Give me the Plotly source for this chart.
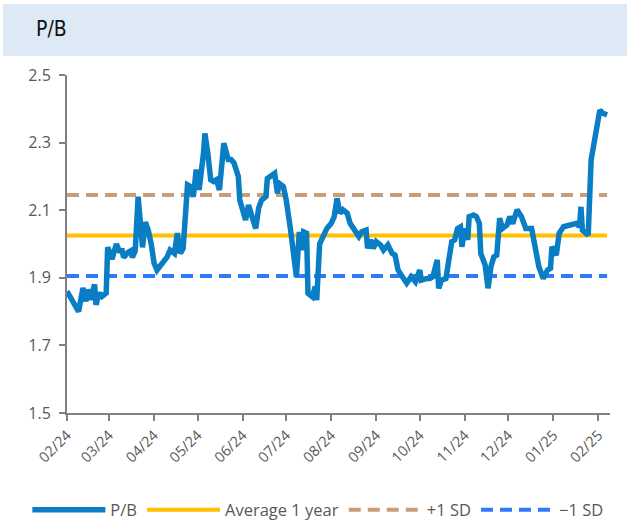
import plotly.graph_objects as go

dates = [
    "2024-02-01", "2024-02-09", "2024-02-12", "2024-02-14", "2024-02-15", "2024-02-17",
    "2024-02-20", "2024-02-21", "2024-02-23", "2024-02-25", "2024-02-28", "2024-02-29",
    "2024-03-02", "2024-03-03", "2024-03-06", "2024-03-08", "2024-03-10", "2024-03-11",
    "2024-03-14", "2024-03-16", "2024-03-17", "2024-03-19", "2024-03-21", "2024-03-23",
    "2024-03-24", "2024-03-26", "2024-03-28", "2024-03-30",
    "2024-04-01", "2024-04-03", "2024-04-07", "2024-04-10", "2024-04-12", "2024-04-15",
    "2024-04-17", "2024-04-19", "2024-04-21", "2024-04-24", "2024-04-26", "2024-04-28",
    "2024-04-30",
    "2024-05-02", "2024-05-05", "2024-05-06", "2024-05-08", "2024-05-10", "2024-05-12",
    "2024-05-14", "2024-05-16", "2024-05-19", "2024-05-22", "2024-05-24", "2024-05-26",
    "2024-05-29", "2024-05-30",
    "2024-06-03", "2024-06-05", "2024-06-07", "2024-06-10", "2024-06-12", "2024-06-14",
    "2024-06-17", "2024-06-18", "2024-06-20", "2024-06-23", "2024-06-25", "2024-06-26",
    "2024-06-29",
    "2024-07-01", "2024-07-04", "2024-07-06", "2024-07-08", "2024-07-10", "2024-07-12",
    "2024-07-13", "2024-07-15", "2024-07-16", "2024-07-19", "2024-07-21", "2024-07-22",
    "2024-07-24", "2024-07-27", "2024-07-29",
    "2024-08-01", "2024-08-03", "2024-08-05", "2024-08-07", "2024-08-09", "2024-08-12",
    "2024-08-14", "2024-08-16", "2024-08-20", "2024-08-22", "2024-08-25", "2024-08-26",
    "2024-08-28", "2024-08-30",
    "2024-09-01", "2024-09-04", "2024-09-06", "2024-09-09", "2024-09-12", "2024-09-14",
    "2024-09-16", "2024-09-19", "2024-09-22", "2024-09-25", "2024-09-28",
    "2024-10-01", "2024-10-02", "2024-10-06", "2024-10-08", "2024-10-10", "2024-10-13",
    "2024-10-14", "2024-10-16", "2024-10-19", "2024-10-21", "2024-10-23", "2024-10-25",
    "2024-10-27", "2024-10-29", "2024-10-30",
    "2024-11-01", "2024-11-03", "2024-11-04", "2024-11-07", "2024-11-09", "2024-11-11",
    "2024-11-12", "2024-11-15", "2024-11-17", "2024-11-19", "2024-11-21", "2024-11-23",
    "2024-11-25", "2024-11-27", "2024-11-30",
    "2024-12-02", "2024-12-04", "2024-12-07", "2024-12-10", "2024-12-13", "2024-12-17",
    "2024-12-20", "2024-12-22", "2024-12-25", "2024-12-28", "2024-12-30", "2024-12-31",
    "2025-01-03", "2025-01-05", "2025-01-08", "2025-01-12", "2025-01-17", "2025-01-19",
    "2025-01-20", "2025-01-21", "2025-01-23", "2025-01-25", "2025-01-27", "2025-01-29",
    "2025-01-31", "2025-02-02", "2025-02-04", "2025-02-07",
]

pb_values = [
    1.86, 1.80, 1.87, 1.83, 1.865, 1.835,
    1.88, 1.82, 1.855, 1.845, 1.855, 1.99,
    1.97, 1.955, 2.00, 1.98, 1.98, 1.96,
    1.975, 1.98, 1.96, 1.98, 2.14, 2.05,
    1.99, 2.065, 2.04, 2.00,
    1.943, 1.923, 1.948, 1.962, 1.982, 1.972,
    2.032, 1.972, 1.987, 2.175, 2.17, 2.14,
    2.22,
    2.16, 2.268, 2.327, 2.268, 2.19, 2.185,
    2.19, 2.16, 2.298, 2.25, 2.25, 2.24,
    2.20, 2.13,
    2.071, 2.115, 2.081, 2.046, 2.106, 2.13,
    2.14, 2.194, 2.20, 2.209, 2.15, 2.18,
    2.17,
    2.13, 2.041, 1.982, 1.903, 2.036, 1.982,
    2.036, 2.032, 1.854, 1.844, 1.874, 1.834,
    2.00, 2.032, 2.046,
    2.061, 2.08, 2.135, 2.091, 2.101, 2.091,
    2.061, 2.046, 2.022, 2.036, 2.041, 1.987,
    2.012, 1.987,
    2.007, 1.997, 1.982, 1.997, 1.972, 1.967,
    1.923, 1.903, 1.884, 1.903, 1.888,
    1.923, 1.893, 1.898, 1.898, 1.903, 1.953,
    1.869, 1.893, 1.898, 1.943, 2.007, 2.012,
    2.046, 2.051, 1.992,
    2.046, 2.012, 2.081, 2.086, 2.081, 2.061,
    1.972, 1.938, 1.869, 1.933, 1.962, 1.967,
    2.076, 2.046, 2.056,
    2.081, 2.06, 2.101, 2.081, 2.046, 2.046,
    1.972, 1.933, 1.898, 1.923, 1.928, 1.992,
    1.967, 2.032, 2.051, 2.056, 2.061, 2.051,
    2.11, 2.041, 2.032, 2.026, 2.249, 2.298,
    2.367, 2.396, 2.387, 2.382,
]

average_1y = 2.025
plus_1sd = 2.145
minus_1sd = 1.905

y_ticks = [1.5, 1.7, 1.9, 2.1, 2.3, 2.5]

span = [dates[0], dates[-1]]

fig = go.Figure()
fig.add_trace(go.Scatter(x=span, y=[minus_1sd] * 2, mode="lines", name="\u22121 SD",
                         line=dict(color="#2f7bf5", width=4, dash="12px,7px")))
fig.add_trace(go.Scatter(x=span, y=[plus_1sd] * 2, mode="lines", name="+1 SD",
                         line=dict(color="#c89d78", width=4, dash="12px,7px")))
fig.add_trace(go.Scatter(x=span, y=[average_1y] * 2, mode="lines", name="Average 1 year",
                         line=dict(color="#ffc000", width=4)))
fig.add_trace(go.Scatter(x=dates, y=pb_values, mode="lines", name="P/B",
                         line=dict(color="#0a7ec4", width=5.5)))

y_font = dict(family="Open Sans, sans-serif", size=16, color="#595959")
x_font = dict(family="Open Sans, sans-serif", size=14.5, color="#595959")

fig.update_layout(
    width=627, height=524,
    margin=dict(l=67, r=17, t=75, b=111, autoexpand=False),
    paper_bgcolor="white", plot_bgcolor="white",
    showlegend=True,
    legend=dict(orientation="h", x=-0.073, xanchor="left",
                y=-0.287, yanchor="middle", traceorder="reversed",
                font=dict(family="Open Sans, sans-serif", size=16.5, color="#595959"),
                itemwidth=73),
    shapes=[dict(type="rect", xref="paper", yref="paper", x0=-0.118, x1=1.035,
                 y0=1.056, y1=1.21, fillcolor="#dde9f5", line=dict(width=0), layer="below")],
    annotations=[dict(text="P/B", xref="paper", yref="paper", x=-0.061, y=1.135,
                      xanchor="left", yanchor="middle", showarrow=False,
                      font=dict(family="Liberation Sans Narrow, DejaVu Sans Condensed, sans-serif",
                                size=21, color="#111111"))],
    xaxis=dict(type="date", range=["2024-02-01", "2025-02-09"], tick0="2024-02-01", dtick="M1",
               tickformat="%m/%y", tickangle=-45, ticks="outside", ticklen=6, tickwidth=1.5,
               tickcolor="#808080", showline=True, linecolor="#808080", linewidth=2,
               showgrid=False, zeroline=False, tickfont=x_font, automargin=False),
    yaxis=dict(range=[1.5, 2.5], tickvals=y_ticks, ticktext=[f"{v:.1f}" for v in y_ticks],
               ticks="outside", ticklen=6, tickwidth=1.5, tickcolor="#808080",
               showline=True, linecolor="#808080", linewidth=2, showgrid=False,
               zeroline=False, tickfont=y_font, automargin=False, ticklabelstandoff=5),
)

fig.write_html("out.html", config={"displayModeBar": False},
               post_script="document.body.style.margin='0px';")
